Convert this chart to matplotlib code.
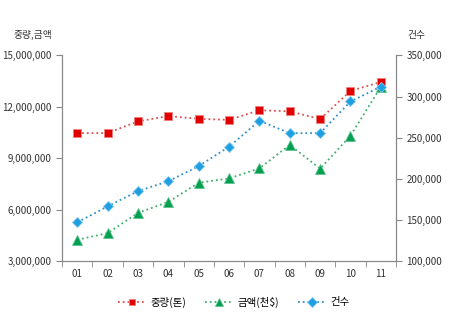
import numpy as np
import matplotlib.pyplot as plt
from matplotlib.ticker import FuncFormatter, FixedLocator

plt.rcParams['font.family'] = ['Noto Sans CJK KR', 'DejaVu Sans']

months = ['01', '02', '03', '04', '05', '06', '07', '08', '09', '10', '11']
weight = [10.47e6, 10.47e6, 11.15e6, 11.46e6, 11.30e6, 11.24e6, 11.80e6, 11.74e6, 11.28e6, 12.93e6, 13.45e6]
amount = [4.24e6, 4.63e6, 5.81e6, 6.45e6, 7.57e6, 7.82e6, 8.41e6, 9.78e6, 8.39e6, 10.31e6, 13.16e6]
count = [147000, 166500, 185000, 197000, 215500, 239000, 270500, 255500, 255500, 294000, 312000]

x = np.arange(len(months))
gray = '#888888'
fmt = FuncFormatter(lambda v, p: f'{int(v):,}')

fig = plt.figure(figsize=(4.5, 3.3), dpi=100)
ax = fig.add_axes([0.138, 0.209, 0.742, 0.623])
ax2 = ax.twinx()

l1, = ax.plot(x, weight, linestyle=':', color='#e05050', lw=1.3,
              marker='s', ms=5.5, mfc='#e00000', mec='#f08080', mew=0.6,
              label='중량(톤)')
l2, = ax.plot(x, amount, linestyle=':', color='#40b070', lw=1.3,
              marker='^', ms=6.5, mfc='#00a050', mec='#60c090', mew=0.6,
              label='금액(천$)')
l3, = ax2.plot(x, count, linestyle=':', color='#3090c8', lw=1.3,
               marker='D', ms=5.5, mfc='#1ea0e0', mec='#80c8f0', mew=0.6,
               label='건수')

ax.set_xlim(-0.5, len(months) - 0.5)
ax.set_ylim(3e6, 15e6)
ax.set_yticks(np.arange(3e6, 15.1e6, 3e6))
ax.yaxis.set_major_formatter(fmt)
ax2.set_ylim(100000, 350000)
ax2.set_yticks(np.arange(100000, 350001, 50000))
ax2.yaxis.set_major_formatter(fmt)

ax.set_xticks(x)
ax.set_xticklabels(months)
ax.xaxis.set_minor_locator(FixedLocator(np.arange(-0.5, len(months), 1)))
ax.tick_params(axis='x', which='major', length=0, pad=6, labelsize=7, colors='#333333')
ax.tick_params(axis='x', which='minor', length=4, color=gray)
ax.tick_params(axis='y', length=4, color=gray, labelsize=7, labelcolor='#333333')
ax2.tick_params(axis='y', length=4, color=gray, labelsize=7, labelcolor='#333333')

for a in (ax, ax2):
    a.spines['top'].set_visible(False)
    for s in ('left', 'right', 'bottom'):
        a.spines[s].set_color(gray)
        a.spines[s].set_linewidth(0.8)

fig.text(0.03, 0.885, '중량,금액', fontsize=7, color='#333333')
fig.text(0.905, 0.885, '건수', fontsize=7, color='#333333')

fig.legend(handles=[l1, l2, l3], loc='center', bbox_to_anchor=(0.52, 0.085),
           ncol=3, frameon=False, fontsize=7.5, handlelength=2.6,
           columnspacing=1.8, handletextpad=0.5, markerscale=0.85)

fig.savefig('out.png', dpi=100)
